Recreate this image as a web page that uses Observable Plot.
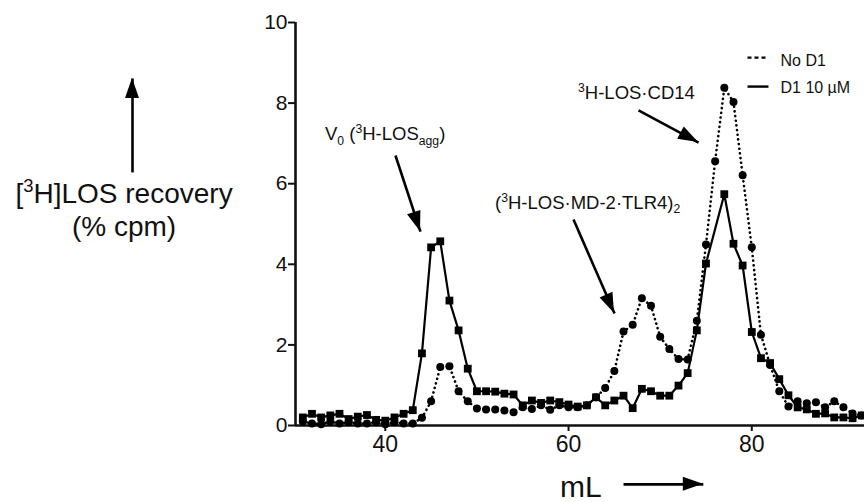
<!DOCTYPE html>
<html>
<head>
<meta charset="utf-8">
<script src="https://cdn.jsdelivr.net/npm/d3@7"></script>
<script src="https://cdn.jsdelivr.net/npm/@observablehq/plot@0.6"></script>
<style>
  body { margin: 0; background: #fff; }
  #chart svg { display: block; }
</style>
</head>
<body>
<div id="chart"></div>
<script>
// ---- data ----
const fractionsML = [31,32,33,34,35,36,37,38,39,40,41,42,43,44,45,46,47,48,49,50,
                     51,52,53,54,55,56,57,58,59,60,61,62,63,64,65,66,67,68,69,70,
                     71,72,73,74,75,76,77,78,79,80,81,82,83,84,85,86,87,88,89,90,91,92];
const noD1 =        [0.10,0.05,0.03,0.10,0.05,0.08,0.05,0.05,0.08,0.03,0.08,0.05,0.05,0.19,0.60,1.45,1.47,0.85,0.60,0.42,
                     0.40,0.40,0.37,0.33,0.45,0.41,0.50,0.39,0.50,0.45,0.45,0.50,0.70,0.93,1.35,2.33,2.50,3.16,2.97,2.20,
                     1.90,1.65,1.64,2.60,4.49,6.56,8.38,8.03,6.21,4.42,2.25,1.50,0.85,0.47,0.60,0.55,0.58,0.45,0.60,0.45,0.30,0.25];
const d1_10uM =     [0.20,0.29,0.20,0.25,0.29,0.16,0.22,0.26,0.14,0.12,0.20,0.29,0.38,1.79,4.42,4.57,3.10,2.36,1.41,0.85,
                     0.85,0.84,0.79,0.77,0.50,0.62,0.56,0.62,0.58,0.52,0.47,0.50,0.70,0.50,0.62,0.74,0.43,0.91,0.85,0.74,
                     0.74,0.99,1.30,2.36,4.02,null,5.74,4.51,3.97,2.32,1.67,1.55,1.15,0.75,0.45,0.40,0.29,0.30,0.20,0.20,0.18,0.25];
const seriesNames = ["No D1", "D1 10 µM"];
const xTicks = [40, 60, 80];
const yTicks = [0, 2, 4, 6, 8, 10];
const xDomain = [30.2, 92.3];
const yDomain = [0, 10];

// ---- annotation anchors (data units) ----
const annotArrows = [
  {x1: 41.11, y1: 6.70, x2: 43.84, y2: 4.81},   // V0
  {x1: 60.54, y1: 5.11, x2: 65.02, y2: 2.78},   // dimer
  {x1: 67.64, y1: 7.82, x2: 74.19, y2: 7.02},   // CD14
  {x1: 12.41, y1: 6.28, x2: 12.41, y2: 8.61},   // y-axis arrow
  {x1: 66.00, y1: -1.46, x2: 74.71, y2: -1.46}  // x-axis arrow
];

const FONT = "'Liberation Sans', Arial, Helvetica, sans-serif";
const INK = "#111";

const rowsNo = fractionsML.map((x, i) => ({x, y: noD1[i]})).filter(d => d.y != null);
const rowsD1 = fractionsML.map((x, i) => ({x, y: d1_10uM[i]})).filter(d => d.y != null);
const legendRows = [
  {x1: 79.53, x2: 81.82, y: 9.13, label: seriesNames[0], ty: 8.93},
  {x1: 79.53, x2: 81.82, y: 8.41, label: seriesNames[1], ty: 8.24}
];

const chart = Plot.plot({
  width: 864,
  height: 502,
  marginLeft: 295,
  marginRight: 0,
  marginTop: 22,
  marginBottom: 77,
  style: {fontFamily: FONT, background: "#fff", color: INK},
  x: {domain: xDomain},
  y: {domain: yDomain},
  marks: [
    Plot.axisY({ticks: yTicks, tickSize: 7, tickPadding: 1, fontSize: 21, strokeWidth: 2, label: null, tickFormat: d => String(d)}),
    Plot.axisX({ticks: xTicks, tickSize: 6, tickPadding: 4, fontSize: 23, strokeWidth: 2, label: null, tickFormat: d => String(d)}),
    Plot.ruleX([xDomain[0]], {stroke: INK, strokeWidth: 2.6}),
    Plot.ruleY([0], {stroke: INK, strokeWidth: 2.6}),
    Plot.line(rowsNo, {x: "x", y: "y", stroke: "#000", strokeWidth: 2.6, strokeDasharray: "0.1,4.6", strokeLinecap: "round"}),
    Plot.dot(rowsNo, {x: "x", y: "y", r: 4, fill: "#000"}),
    Plot.line(rowsD1, {x: "x", y: "y", stroke: "#000", strokeWidth: 2.2}),
    Plot.dot(rowsD1, {x: "x", y: "y", symbol: "square", r: 4.4, fill: "#000"}),
    Plot.link(legendRows.slice(0, 1), {x1: "x1", x2: "x2", y1: "y", y2: "y", stroke: "#000", strokeWidth: 2.2, strokeDasharray: "4,3"}),
    Plot.link(legendRows.slice(1), {x1: "x1", x2: "x2", y1: "y", y2: "y", stroke: "#000", strokeWidth: 2.4}),
    Plot.text(legendRows, {x: d => 83.13, y: "ty", text: "label", textAnchor: "start", lineAnchor: "bottom", fontSize: 16, fill: INK}),
    Plot.link(annotArrows, {x1: "x1", y1: "y1", x2: "x2", y2: "y2", stroke: "#000", strokeWidth: 2.6})
  ]
});
document.getElementById("chart").appendChild(chart);

// ---- arrowheads and rich-text annotations through the plot's scales ----
const svg = d3.select(chart);
const sx = chart.scale("x"), sy = chart.scale("y");
const X = v => sx.apply(v), Y = v => sy.apply(v);

for (const a of annotArrows) {
  const x1 = X(a.x1), y1 = Y(a.y1), x2 = X(a.x2), y2 = Y(a.y2);
  const len = Math.hypot(x2 - x1, y2 - y1), ux = (x2 - x1) / len, uy = (y2 - y1) / len;
  const L = 20, W = 7;
  const bx = x2 - ux * L, by = y2 - uy * L;
  svg.append("path")
    .attr("d", `M${x2},${y2}L${bx - uy * W},${by + ux * W}L${bx + uy * W},${by - ux * W}Z`)
    .attr("fill", "#000");
}

function rich(x, y, size, parts, anchor = "start") {
  const t = svg.append("text")
    .attr("x", X(x)).attr("y", Y(y))
    .attr("font-size", size).attr("font-family", FONT)
    .attr("text-anchor", anchor).attr("fill", INK);
  let shift = 0;
  for (const p of parts) {
    const target = p.sup ? -0.4 * size : p.sub ? 0.24 * size : 0;
    t.append("tspan")
      .attr("dy", target - shift)
      .attr("font-size", (p.sup || p.sub) ? size * 0.66 : size)
      .text(p.t);
    shift = target;
  }
}

rich(33.47, 7.07, 18.5, [{t: "V"}, {t: "0", sub: true}, {t: " ("}, {t: "3", sup: true}, {t: "H-LOS"}, {t: "agg", sub: true}, {t: ")"}]);
rich(52.03, 5.36, 18.5, [{t: "("}, {t: "3", sup: true}, {t: "H-LOS·MD-2·TLR4)"}, {t: "2", sub: true}]);
rich(61.09, 8.09, 18.5, [{t: "3", sup: true}, {t: "H-LOS·CD14"}]);
rich(11.54, 5.51, 28, [{t: "["}, {t: "3", sup: true}, {t: "H]LOS recovery"}], "middle");
rich(11.54, 4.69, 28, [{t: "(% cpm)"}], "middle");
rich(59.12, -1.79, 30, [{t: "mL"}]);
</script>
</body>
</html>
